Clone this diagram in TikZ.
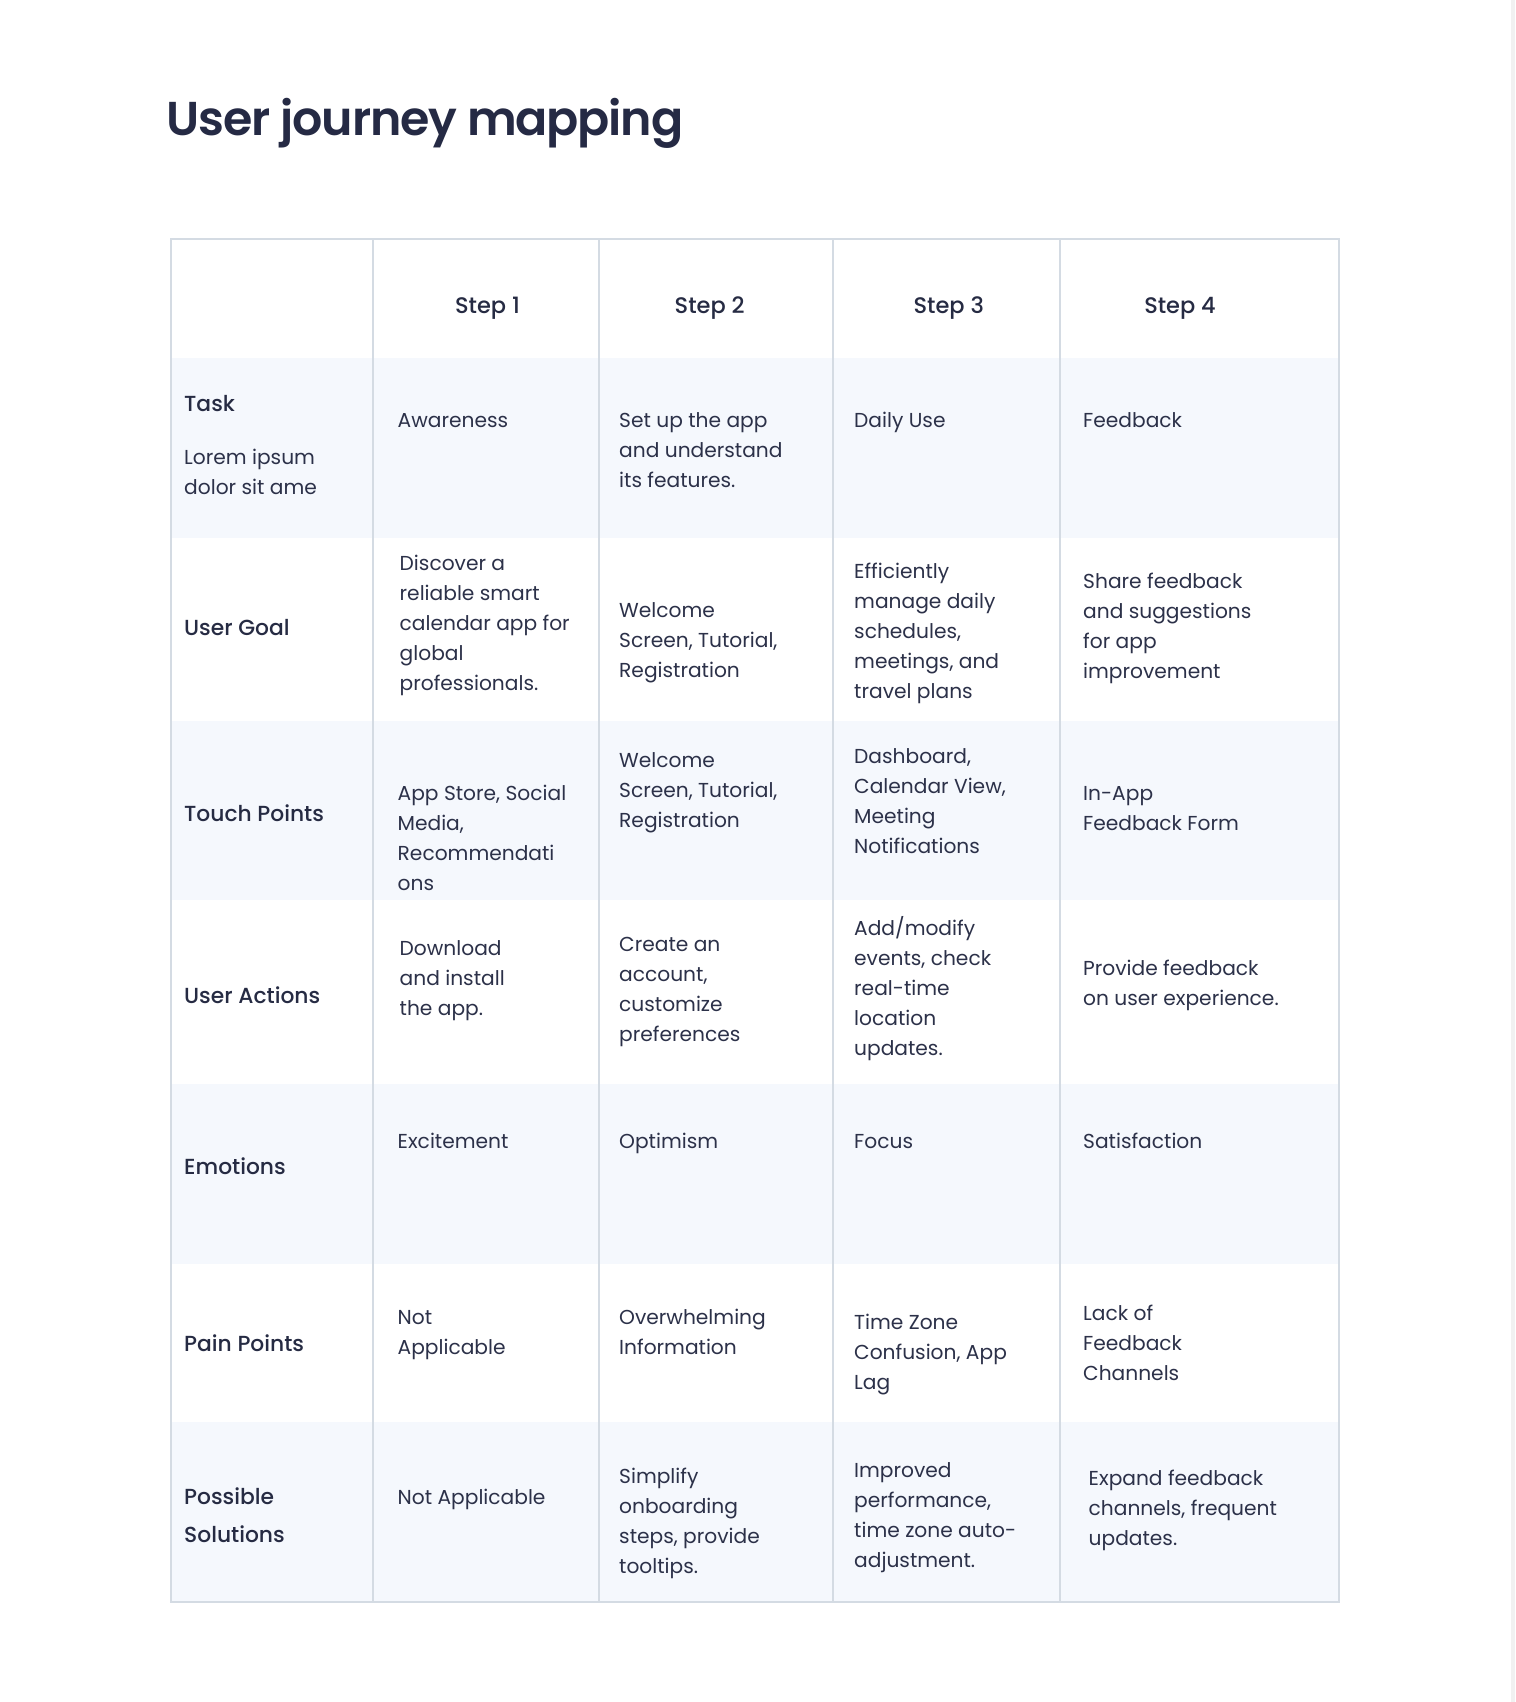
\documentclass[tikz,border=0pt]{standalone}
\usepackage{fontspec}
\setmainfont{Poppins}
\newfontfamily\medfont{Poppins Medium}
\newfontfamily\semifont{Poppins SemiBold}[LetterSpace=-2.5]
\definecolor{bordercol}{HTML}{D4DBE3}
\definecolor{shadecol}{HTML}{F5F8FD}
\definecolor{titlecol}{HTML}{252A44}
\definecolor{textcol}{HTML}{2C3149}
\definecolor{labelcol}{HTML}{262B43}
\definecolor{stripcol}{HTML}{F1F1F1}
\newcommand\cellrows[2][30pt]{\vtop{\baselineskip=#1\lineskiplimit=-50pt\lineskip=0pt\let\\\cr\halign{##\hfil\cr#2\crcr}}}
\tikzset{
  body/.style={anchor=base west, inner sep=0pt, text=textcol, font=\fontsize{20.2}{30}\selectfont},
  rowlabel/.style={anchor=base west, inner sep=0pt, text=labelcol, font=\medfont\fontsize{21.8}{30}\selectfont},
  colhead/.style={anchor=base, inner sep=0pt, text=labelcol, font=\medfont\fontsize{22.5}{30}\selectfont},
  titletext/.style={anchor=base west, inner sep=0pt, text=titlecol, font=\semifont\fontsize{47.5}{56}\selectfont},
  gridline/.style={draw=bordercol, line width=2pt},
  shade/.style={fill=shadecol}
}
\begin{document}
\begin{tikzpicture}[x=1pt,y=-1pt]
\useasboundingbox (0,0) rectangle (1515,1702);
\fill[white] (0,0) rectangle (1515,1702);
\fill[stripcol] (1511,0) rectangle (1515,1702);
% title
\node[titletext] (title) at (166.5,135) {User journey mapping};
% shaded rows
\fill[shade] (171,358) rectangle (1339,537.5);
\fill[shade] (171,721) rectangle (1339,900);
\fill[shade] (171,1084) rectangle (1339,1263.5);
\fill[shade] (171,1422) rectangle (1339,1602);
% grid
\draw[gridline] (171,239) rectangle (1339,1602);
\foreach \cx in {373,599,833,1060} {\draw[gridline] (\cx,239) -- (\cx,1602);}
% header
\node[colhead] (h1) at (487.5,313) {Step 1};
\node[colhead] (h2) at (709.7,313) {Step 2};
\node[colhead] (h3) at (948.8,313) {Step 3};
\node[colhead] (h4) at (1180,313) {Step 4};
% row labels
\node[rowlabel] (l1) at (184,411.7) {Task};
\node[body] (l1b) at (184,464.3) {\cellrows{Lorem ipsum\\dolor sit ame}};
\node[rowlabel] (l2) at (184,635) {User Goal};
\node[rowlabel] (l3) at (184,821) {Touch Points};
\node[rowlabel] (l4) at (184,1003.6) {User Actions};
\node[rowlabel] (l5) at (184,1174) {Emotions};
\node[rowlabel] (l6) at (184,1351) {Pain Points};
\node[rowlabel] (l7) at (184,1504) {\cellrows[38pt]{Possible\\Solutions}};
% Task
\node[body] (c11) at (397.5,427.5) {Awareness};
\node[body] (c12) at (619,427.5) {\cellrows{Set up the app\\and understand\\its features.}};
\node[body] (c13) at (854,427.5) {Daily Use};
\node[body] (c14) at (1083,427.5) {Feedback};
% User Goal
\node[body] (c21) at (399.5,570) {\cellrows{Discover a\\reliable smart\\calendar app for\\global\\professionals.}};
\node[body] (c22) at (619,617) {\cellrows{Welcome\\Screen, Tutorial,\\Registration}};
\node[body] (c23) at (854,578.6) {\cellrows{Efficiently\\manage daily\\schedules,\\meetings, and\\travel plans}};
\node[body] (c24) at (1083,588.6) {\cellrows{Share feedback\\and suggestions\\for app\\improvement}};
% Touch Points
\node[body] (c31) at (397.5,800) {\cellrows{App Store, Social\\Media,\\Recommendati\\ons}};
\node[body] (c32) at (619,767.5) {\cellrows{Welcome\\Screen, Tutorial,\\Registration}};
\node[body] (c33) at (854,763.5) {\cellrows{Dashboard,\\Calendar View,\\Meeting\\Notifications}};
\node[body] (c34) at (1083,800.7) {\cellrows{In-App\\Feedback Form}};
% User Actions
\node[body] (c41) at (399.5,955) {\cellrows{Download\\and install\\the app.}};
\node[body] (c42) at (619,951.4) {\cellrows{Create an\\account,\\customize\\preferences}};
\node[body] (c43) at (854,935.7) {\cellrows{Add/modify\\events, check\\real-time\\location\\updates.}};
\node[body] (c44) at (1083,975.6) {\cellrows{Provide feedback\\on user experience.}};
% Emotions
\node[body] (c51) at (397.5,1148) {Excitement};
\node[body] (c52) at (619,1148) {Optimism};
\node[body] (c53) at (854,1148) {Focus};
\node[body] (c54) at (1083,1148) {Satisfaction};
% Pain Points
\node[body] (c61) at (397.5,1324) {\cellrows{Not\\Applicable}};
\node[body] (c62) at (619,1324) {\cellrows{Overwhelming\\Information}};
\node[body] (c63) at (854,1329.4) {\cellrows{Time Zone\\Confusion, App\\Lag}};
\node[body] (c64) at (1083,1320.7) {\cellrows{Lack of\\Feedback\\Channels}};
% Possible Solutions
\node[body] (c71) at (397.5,1504) {Not Applicable};
\node[body] (c72) at (619,1483.5) {\cellrows{Simplify\\onboarding\\steps, provide\\tooltips.}};
\node[body] (c73) at (854,1477) {\cellrows{Improved\\performance,\\time zone auto-\\adjustment.}};
\node[body] (c74) at (1088.5,1485.7) {\cellrows{Expand feedback\\channels, frequent\\updates.}};
\end{tikzpicture}
\end{document}
